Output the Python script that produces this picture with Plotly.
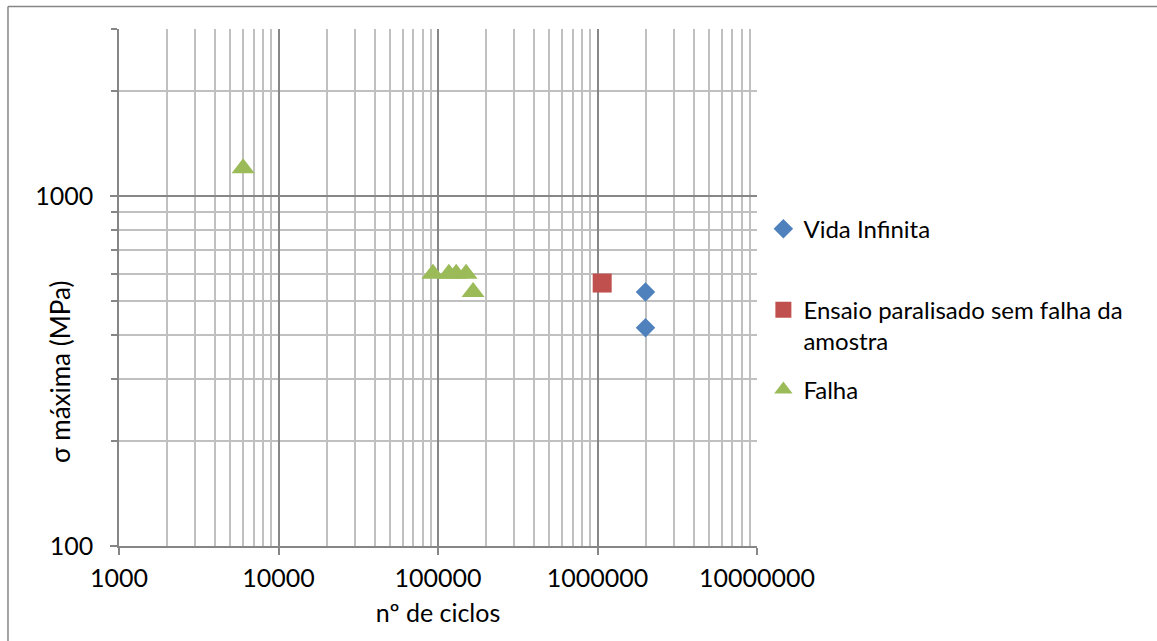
import plotly.graph_objects as go

# Fatigue test results: number of cycles vs maximum stress
vida_ciclos = [2000000, 2000000]
vida_tensao = [532, 420]

ensaio_ciclos = [1070000]
ensaio_tensao = [564]

falha_ciclos = [6000, 93000, 117000, 130000, 150000, 166000]
falha_tensao = [1200, 600, 600, 600, 600, 532]

x_tick_vals = [1000, 10000, 100000, 1000000, 10000000]
x_tick_text = ["1000", "10000", "100000", "1000000", "10000000"]
y_tick_vals = [100, 1000]
y_tick_text = ["100", "1000"]

FONT = "Lato"
AXIS = "#868686"
MAJOR = "#878787"
MINOR = "#C0C0C0"

fig = go.Figure()

fig.add_trace(go.Scatter(
    x=vida_ciclos, y=vida_tensao, mode="markers", name="Vida Infinita",
    marker=dict(symbol="diamond", size=15, color="#4F81BD", line=dict(width=0)),
    legend="legend",
))
fig.add_trace(go.Scatter(
    x=ensaio_ciclos, y=ensaio_tensao, mode="markers",
    name="Ensaio paralisado sem falha da<br>amostra",
    marker=dict(symbol="square", size=19, color="#C0504D", line=dict(width=0)),
    legend="legend2",
))
fig.add_trace(go.Scatter(
    x=falha_ciclos, y=falha_tensao, mode="markers", name="Falha",
    marker=dict(symbol="triangle-up", size=20, color="#9BBB59", line=dict(width=0)),
    legend="legend3",
))

legend_common = dict(
    xanchor="left", x=1.01, font=dict(family=FONT, size=24, color="#000000"),
    bgcolor="rgba(0,0,0,0)", borderwidth=0, itemwidth=30,
)

fig.update_layout(
    width=1157, height=641,
    margin=dict(l=119, r=400, t=29, b=95, autoexpand=False),
    paper_bgcolor="white", plot_bgcolor="white",
    font=dict(family=FONT, size=25, color="#000000"),
    xaxis=dict(
        type="log", range=[3, 7], automargin=False,
        tickvals=x_tick_vals, ticktext=x_tick_text,
        showgrid=True, gridcolor=MAJOR, gridwidth=1.5,
        showline=True, linecolor=AXIS, linewidth=1.5,
        ticks="outside", ticklen=7, tickcolor=AXIS, tickwidth=1.5,
        ticklabelstandoff=2,
        tickfont=dict(family=FONT, size=25),
        minor=dict(dtick="D1", showgrid=True, gridcolor=MINOR, gridwidth=1.5, ticks=""),
        title=dict(text="nº de ciclos", font=dict(family=FONT, size=25), standoff=14),
        zeroline=False, mirror=False,
    ),
    yaxis=dict(
        type="log", range=[2, 3.4771], automargin=False,
        tickvals=y_tick_vals, ticktext=y_tick_text,
        showgrid=True, gridcolor=MAJOR, gridwidth=1.5,
        showline=True, linecolor=AXIS, linewidth=1.5,
        ticks="outside", ticklen=7, tickcolor=AXIS, tickwidth=1.5,
        ticklabelstandoff=12,
        tickfont=dict(family=FONT, size=25),
        minor=dict(dtick="D1", showgrid=True, gridcolor=MINOR, gridwidth=1.5,
                   ticks="outside", ticklen=6, tickcolor=AXIS, tickwidth=1.5),
        zeroline=False,
    ),
    annotations=[dict(
        text="σ máxima (MPa)", xref="paper", yref="paper",
        x=-0.0925, y=0.3366, xanchor="center", yanchor="middle",
        textangle=-90, showarrow=False,
        font=dict(family=FONT, size=26, color="#000000"),
    )],
    showlegend=True,
    legend=dict(**legend_common, y=0.613, yanchor="middle"),
    legend2=dict(**legend_common, y=0.426, yanchor="middle", valign="top"),
    legend3=dict(**legend_common, y=0.3017, yanchor="middle"),
    shapes=[
        dict(type="line", xref="paper", yref="paper",
             x0=-0.174, y0=1.0435, x1=1.63, y1=1.0435,
             line=dict(color=AXIS, width=1.5), layer="below"),
        dict(type="line", xref="paper", yref="paper",
             x0=-0.174, y0=-0.19, x1=-0.174, y1=1.0435,
             line=dict(color=AXIS, width=1.5), layer="below"),
    ],
)

fig.write_html("out.html")
